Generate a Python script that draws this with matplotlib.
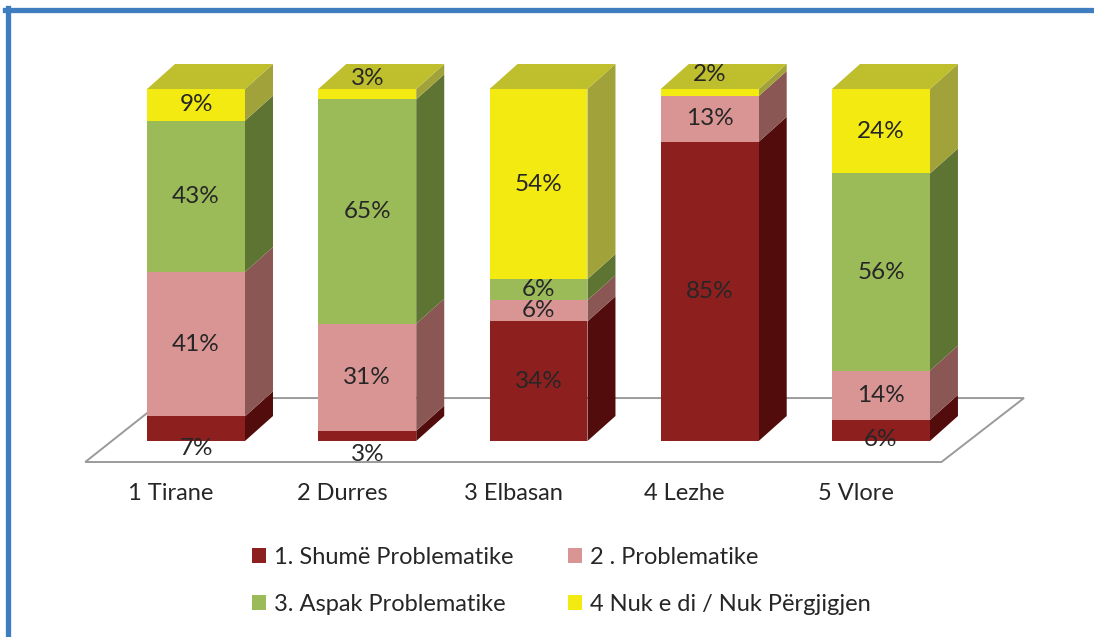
import matplotlib
matplotlib.use("Agg")
import matplotlib.pyplot as plt
from matplotlib.patches import Polygon, Patch
from matplotlib.lines import Line2D

plt.rcParams["font.family"] = ["Lato", "DejaVu Sans"]

# data
cities = ["1 Tirane", "2 Durres", "3 Elbasan", "4 Lezhe", "5 Vlore"]
series = ["1. Shumë Problematike", "2 . Problematike",
          "3. Aspak Problematike", "4 Nuk e di / Nuk Përgjigjen"]
shume = [7, 3, 34, 85, 6]
problem = [41, 31, 6, 13, 14]
aspak = [43, 65, 6, 0, 56]
nukedi = [9, 3, 54, 2, 24]

# style
FRONT = ["#8E1F1F", "#D99594", "#9BBB59", "#F2EA10"]
SIDE = ["#530C0C", "#8B5754", "#5E7432", "#A2A23A"]
TOP = "#BFBF2E"
DX, DY = 0.1635, 7.1  # fake 3d depth, data units
W = 0.572
FLOOR_SHIFT = -0.147  # category labels sit on the floor's front edge
# manual label nudges (percent units) for thin segments, as in the original
NUDGE = {(0, 0): -5.7, (1, 0): -5.4, (4, 0): -2.6, (1, 3): 4.5, (3, 3): 5.1}

W_PX, H_PX = 1094, 637
fig = plt.figure(figsize=(W_PX / 100, H_PX / 100), dpi=100)
ax = fig.add_axes([110.4 / W_PX, 196 / H_PX, 856.2 / W_PX, 352 / H_PX])
ax.set_xlim(-0.5, 4.5)
ax.set_ylim(0, 100)

# floor
n = len(cities)
floor = Polygon([(-0.5 + FLOOR_SHIFT, -5.97), (n - 0.5 + FLOOR_SHIFT, -5.97),
                 (n - 0.5 + 0.335, 12.2), (-0.5 - FLOOR_SHIFT + 0.178, 12.2)],
                closed=True, facecolor="white", edgecolor="#9A9A9A", lw=1.4,
                zorder=1, clip_on=False)
ax.add_patch(floor)

cols = list(zip(shume, problem, aspak, nukedi))
for i, vals in enumerate(cols):
    tot = float(sum(vals))
    x0, x1 = i - W / 2, i + W / 2
    base = 0.0
    for k, v in enumerate(vals):
        h = v / tot * 100
        if h <= 0:
            continue
        ax.bar(i, h, W, bottom=base, color=FRONT[k], zorder=3, clip_on=False)
        side = Polygon([(x1, base), (x1 + DX, base + DY), (x1 + DX, base + h + DY), (x1, base + h)],
                       closed=True, facecolor=SIDE[k], edgecolor="none", zorder=2, clip_on=False)
        ax.add_patch(side)
        yl = base + h / 2 + NUDGE.get((i, k), 0)
        ax.text(i, yl, f"{v}%", ha="center", va="center", fontsize=17.5,
                color="#262626", zorder=5)
        base += h
    top = Polygon([(x0, 100), (x0 + DX, 100 + DY), (x1 + DX, 100 + DY), (x1, 100)],
                  closed=True, facecolor=TOP, edgecolor="none", zorder=2, clip_on=False)
    ax.add_patch(top)

for s in ax.spines.values():
    s.set_visible(False)
ax.set_yticks([])
ax.set_xticks([i + FLOOR_SHIFT for i in range(n)])
ax.set_xticklabels(cities, fontsize=17, color="#262626")
ax.tick_params(axis="x", length=0, pad=30)

# legend fills row by row in the original
order = [0, 2, 1, 3]
handles = [Patch(facecolor=FRONT[j], edgecolor="none") for j in order]
labels = [series[j] for j in order]
fig.legend(handles, labels, ncol=2, loc="center", bbox_to_anchor=(0.513, 0.088),
           frameon=False, fontsize=17, handlelength=0.6, handleheight=0.6,
           handletextpad=0.35, columnspacing=2.3, labelspacing=1.12,
           labelcolor="#262626")

# blue frame (top and left edges)
fig.add_artist(Line2D([5 / W_PX, 1], [1 - 9.5 / H_PX, 1 - 9.5 / H_PX],
                      color="#3F7DC1", lw=3.8, transform=fig.transFigure))
fig.add_artist(Line2D([8 / W_PX, 8 / W_PX], [0, 1 - 8 / H_PX],
                      color="#3F7DC1", lw=3.8, transform=fig.transFigure))

fig.savefig("out.png", dpi=100, facecolor="white")
